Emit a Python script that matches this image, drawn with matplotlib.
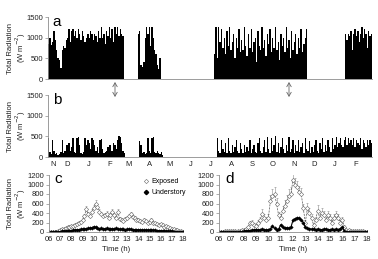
import numpy as np
import matplotlib
matplotlib.use('Agg')
import matplotlib.pyplot as plt
from matplotlib.lines import Line2D
from matplotlib.patches import FancyArrowPatch

plt.rcParams['font.family'] = ['Liberation Sans', 'DejaVu Sans']

# ---- panel a / b: radiation, values every 2 days, per measuring period ----
t0 = np.datetime64('2008-11-18')
t_end = np.datetime64('2010-03-13')

exposed_starts = ['2008-11-18', '2009-03-31', '2009-07-22', '2010-02-01']
exposed_blocks = [
    [850, 1000, 820, 900, 1150, 950, 700, 500, 450, 260,
     700, 800, 750, 950, 1000, 1200, 900, 1150, 1200, 1050,
     1150, 1000, 1200, 1100, 950, 1150, 1050, 900, 1000, 1100,
     1000, 1150, 1100, 950, 1100, 1050, 900, 1150, 1000, 1250,
     1000, 1100, 850, 1150, 1050, 1250, 1000, 1200, 900, 1250,
     1100, 1250, 1050, 1200, 1100, 1050],
    [1100, 1150, 350, 300, 400, 1000, 1250, 1100, 1250, 800,
     1250, 1000, 700, 600, 350, 250, 500],
    [600, 1250, 500, 1250, 900, 1200, 750, 1000, 600, 1150,
     800, 1250, 700, 900, 1100, 500, 1000, 750, 1200, 650,
     950, 700, 1250, 800, 550, 1100, 750, 1200, 650, 900,
     1000, 400, 1150, 800, 700, 1250, 750, 950, 550, 1100,
     850, 1200, 650, 1000, 750, 1250, 700, 900, 450, 1100,
     800, 1000, 650, 1250, 750, 950, 500, 1150, 700, 900,
     1100, 600, 1000, 750, 1200, 650, 850, 1000, 1200],
    [1100, 950, 1100, 1050, 1150, 700, 1100, 1200, 1050, 1150,
     900, 1100, 1250, 1000, 1200, 1100, 750, 1150, 1050, 1100],
]

under_starts = ['2008-11-18', '2009-04-02', '2009-07-26']
under_blocks = [
    [450, 120, 80, 420, 150, 80, 100, 60, 80, 120,
     420, 100, 150, 280, 300, 350, 150, 250, 450, 120,
     100, 450, 480, 300, 100, 80, 120, 450, 300, 420,
     350, 200, 450, 400, 300, 150, 250, 100, 420, 430,
     200, 100, 120, 150, 250, 280, 300, 150, 350, 300,
     200, 400, 500, 480, 350, 150, 100],
    [380, 300, 100, 120, 80, 100, 470, 150, 100, 450,
     480, 120, 100, 150, 100, 80, 120, 60],
    [450, 150, 100, 400, 200, 120, 350, 100, 450, 150,
     100, 300, 120, 250, 400, 150, 100, 350, 200, 100,
     300, 120, 250, 150, 400, 100, 200, 300, 120, 100,
     350, 450, 150, 100, 250, 400, 120, 480, 200, 100,
     450, 150, 300, 500, 120, 350, 100, 250, 450, 200,
     100, 300, 150, 480, 120, 200, 400, 100, 300, 150,
     400, 120, 250, 350, 100, 450, 200, 150, 380, 100,
     250, 120, 300, 420, 150, 100, 350, 200, 450, 120,
     300, 150, 400, 250, 120, 450, 200, 300, 480, 250,
     350, 450, 300, 250, 400, 480, 300, 450, 350, 400,
     300, 450, 250, 400, 350, 300, 450, 200, 400, 350,
     250, 400, 300, 420, 350],
]

month_labels = ['N', 'D', 'J', 'F', 'M', 'A', 'M', 'J', 'J', 'A', 'S', 'O', 'N', 'D', 'J', 'F']
month_dates = ['2008-11-25', '2008-12-17', '2009-01-17', '2009-02-17', '2009-03-17',
               '2009-04-17', '2009-05-17', '2009-06-17', '2009-07-17', '2009-08-17',
               '2009-09-17', '2009-10-17', '2009-11-17', '2009-12-17', '2010-01-17',
               '2010-02-17']

# ---- panel c / d: diurnal course, every 10 min from 06:00 to 18:00 ----
hours = np.arange(6, 18 + 1e-9, 1 / 6.)

c_exposed = [0, 0, 0, 0, 5, 20,
             50, 60, 70, 80, 100, 110,
             120, 130, 150, 170, 200, 220,
             250, 330, 480, 380, 330, 420,
             500, 600, 520, 420, 380, 330,
             350, 380, 300, 360, 420, 350,
             300, 420, 280, 250, 230, 280,
             300, 340, 380, 320, 300, 260,
             260, 240, 220, 250, 230, 200,
             220, 260, 200, 180, 160, 150,
             170, 140, 110, 120, 100, 80,
             70, 60, 50, 40, 30, 20,
             10]
c_exposed_err = [0, 0, 0, 0, 5, 10,
                 15, 15, 20, 20, 20, 25,
                 25, 25, 30, 30, 35, 35,
                 40, 50, 70, 50, 50, 60,
                 70, 80, 70, 60, 50, 50,
                 50, 60, 40, 50, 60, 50,
                 40, 60, 40, 35, 30, 40,
                 40, 45, 50, 40, 40, 35,
                 35, 30, 30, 35, 30, 30,
                 30, 35, 30, 25, 25, 20,
                 25, 20, 20, 20, 15, 15,
                 10, 10, 10, 10, 5, 5,
                 5]
c_under = [0, 0, 0, 0, 0, 5,
           10, 15, 20, 20, 25, 30,
           30, 35, 40, 45, 50, 55,
           60, 65, 70, 75, 80, 90,
           110, 100, 80, 70, 75, 70,
           70, 75, 65, 60, 70, 65,
           75, 60, 55, 60, 55, 50,
           55, 60, 55, 50, 50, 45,
           50, 45, 45, 40, 45, 40,
           40, 40, 35, 35, 30, 30,
           30, 25, 25, 20, 20, 15,
           15, 10, 10, 5, 5, 0,
           0]

d_exposed = [0, 5, 10, 15, 20, 20,
             25, 25, 30, 30, 30, 35,
             40, 60, 100, 180, 200, 150,
             120, 200, 250, 380, 300, 250,
             300, 650, 750, 800, 600, 350,
             300, 450, 550, 650, 750, 800,
             1100, 1000, 950, 850, 800, 500,
             200, 500, 400, 300, 150, 250,
             450, 300, 400, 350, 250, 350,
             300, 200, 300, 350, 300, 200,
             250, 100, 50, 40, 30, 30,
             30, 25, 20, 20, 15, 10,
             5]
d_exposed_err = [0, 5, 5, 5, 10, 10,
                 10, 10, 10, 10, 10, 10,
                 15, 20, 30, 50, 60, 50,
                 40, 60, 70, 100, 80, 70,
                 80, 120, 150, 150, 120, 80,
                 70, 100, 120, 130, 150, 150,
                 150, 140, 130, 120, 120, 100,
                 60, 120, 100, 80, 50, 70,
                 120, 80, 100, 90, 70, 90,
                 80, 60, 80, 90, 80, 60,
                 70, 40, 20, 15, 10, 10,
                 10, 10, 5, 5, 5, 5,
                 5]
d_under = [0, 0, 0, 0, 0, 0,
           0, 0, 5, 5, 10, 10,
           15, 20, 25, 30, 40, 40,
           50, 40, 50, 60, 50, 40,
           50, 60, 120, 80, 50, 60,
           150, 100, 80, 90, 80, 100,
           250, 280, 300, 290, 250, 200,
           100, 80, 70, 60, 60, 50,
           60, 50, 50, 60, 55, 50,
           50, 55, 50, 60, 50, 70,
           100, 20, 10, 5, 0, 0,
           0, 0, 0, 0, 0, 0,
           0]

hour_labels = ['06', '07', '08', '09', '10', '11', '12', '13', '14', '15', '16', '17', '18']

FS = 5.5
SPINE = '#8c8c8c'
W, H = 378., 259.


def box(x0, y0, x1, y1):
    # pixel box (top-left origin) -> figure fraction rect
    return [x0 / W, 1 - y1 / H, (x1 - x0) / W, (y1 - y0) / H]


def style(ax):
    for s in ['top', 'right']:
        ax.spines[s].set_visible(False)
    for s in ['left', 'bottom']:
        ax.spines[s].set_color(SPINE)
        ax.spines[s].set_linewidth(0.6)
    ax.tick_params(labelsize=FS, colors='#222222', length=2, width=0.5, pad=1.5)
    ax.tick_params(axis='both', color=SPINE)


def ylab(ax, x):
    ax.text(x, 0.5, 'Total Radiation\n(W m$^{-2}$)', transform=ax.transAxes,
            rotation=90, ha='center', va='center', fontsize=FS, linespacing=1.0,
            color='#222222')


def days(d):
    return (np.datetime64(d) - t0).astype(float)


fig = plt.figure(figsize=(3.78, 2.59), dpi=100)

# panel a
ax_a = fig.add_axes(box(48, 17, 372, 79))
for st, vals in zip(exposed_starts, exposed_blocks):
    x = days(st) + 2 * np.arange(len(vals))
    ax_a.bar(x, vals, width=2, align='edge', color='black', linewidth=0)
ax_a.set_xlim(0, days(str(t_end)))
ax_a.set_ylim(0, 1500)
ax_a.set_yticks([0, 500, 1000, 1500])
ax_a.set_xticks([])
style(ax_a)
ylab(ax_a, -0.095)
ax_a.text(0.015, 1.04, 'a', transform=ax_a.transAxes, fontsize=11, va='top', ha='left')

# panel b
ax_b = fig.add_axes(box(48, 95, 372, 157))
for st, vals in zip(under_starts, under_blocks):
    x = days(st) + 2 * np.arange(len(vals))
    ax_b.bar(x, vals, width=2, align='edge', color='black', linewidth=0)
ax_b.set_xlim(0, days(str(t_end)))
ax_b.set_ylim(0, 1500)
ax_b.set_yticks([0, 500, 1000, 1500])
ax_b.set_xticks([days(d) for d in month_dates])
ax_b.set_xticklabels(month_labels)
style(ax_b)
ax_b.tick_params(axis='x', length=0, pad=3)
ylab(ax_b, -0.095)
ax_b.text(0.015, 1.04, 'b', transform=ax_b.transAxes, fontsize=11, va='top', ha='left')

# arrows linking a and b
for xp in [115, 289]:
    fig.add_artist(FancyArrowPatch(
        (xp / W, 1 - 82 / H), (xp / W, 1 - 97 / H), transform=fig.transFigure,
        arrowstyle='<->,head_length=0.35,head_width=0.2', mutation_scale=8,
        color='#666666', lw=0.6, shrinkA=0, shrinkB=0))


def diurnal(ax, exp, err, und, letter):
    ax.errorbar(hours, exp, yerr=[np.zeros(len(err)), err], fmt='none',
                ecolor='#8c8c8c', elinewidth=0.4, capsize=1, capthick=0.4)
    ax.plot(hours, exp, ls=(0, (3, 1.5)), color='#555555', lw=0.5,
            marker='D', ms=2.2, mfc='white', mec='#666666', mew=0.4)
    ax.plot(hours, und, ls='-', color='black', lw=0.8,
            marker='D', ms=1.8, mfc='black', mec='black', mew=0.3)
    ax.set_xlim(6, 18)
    ax.set_ylim(0, 1200)
    ax.set_yticks(range(0, 1201, 200))
    ax.set_xticks(range(6, 19))
    ax.set_xticklabels(hour_labels)
    style(ax)
    ax.tick_params(axis='x', length=0, pad=3)
    ax.set_xlabel('Time (h)', fontsize=FS, labelpad=2, color='#222222')
    ax.text(0.04, 1.06, letter, transform=ax.transAxes, fontsize=11, va='top', ha='left')


ax_c = fig.add_axes(box(49, 175, 183, 232))
diurnal(ax_c, c_exposed, c_exposed_err, c_under, 'c')
ylab(ax_c, -0.235)
handles = [Line2D([], [], ls='none', marker='D', ms=2.2, mfc='white', mec='#666666', mew=0.4),
           Line2D([], [], ls='none', marker='D', ms=2.2, mfc='black', mec='black')]
ax_c.legend(handles, ['Exposed', 'Understory'], loc='upper right', fontsize=FS - 0.5,
            frameon=False, handlelength=0.6, handletextpad=0.4, labelspacing=0.6,
            borderpad=0.1, bbox_to_anchor=(1.05, 1.02))

ax_d = fig.add_axes(box(219, 175, 367, 232))
diurnal(ax_d, d_exposed, d_exposed_err, d_under, 'd')

fig.savefig('out.png', dpi=100)
